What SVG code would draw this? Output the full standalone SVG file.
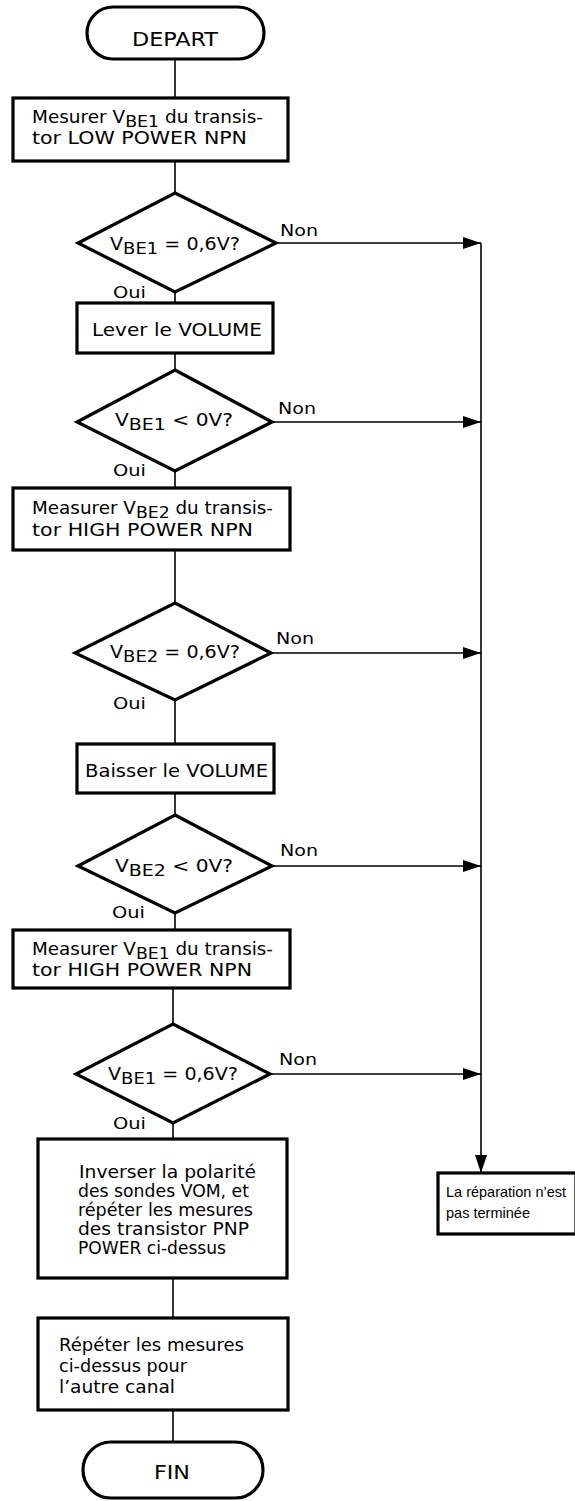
<svg xmlns="http://www.w3.org/2000/svg" width="575" height="1501" viewBox="0 0 575 1501">
<style>
.n{fill:#fff;stroke:#000;stroke-width:3.2}
.c{fill:none;stroke:#000;stroke-width:1.6}
text{font-family:"DejaVu Sans","Liberation Sans",sans-serif;font-size:17px;fill:#000}
.lb{font-size:16px}
.t{font-size:19px}
.s{font-family:"Liberation Sans","DejaVu Sans",sans-serif;font-size:14.5px}
</style>
<defs>
<marker id="ar" markerUnits="userSpaceOnUse" markerWidth="18" markerHeight="12" refX="18" refY="6" orient="auto">
<path d="M0,0 L18,6 L0,12 Z" fill="#000"/>
</marker>
</defs>
<g id="connectors">
<line class="c" x1="175" y1="59" x2="175" y2="98"/>
<line class="c" x1="175" y1="161" x2="175" y2="193"/>
<line class="c" x1="175" y1="292" x2="175" y2="303"/>
<line class="c" x1="175" y1="353" x2="175" y2="370"/>
<line class="c" x1="175" y1="471" x2="175" y2="488"/>
<line class="c" x1="175" y1="550" x2="175" y2="603"/>
<line class="c" x1="175" y1="700" x2="175" y2="744"/>
<line class="c" x1="175" y1="793" x2="175" y2="815"/>
<line class="c" x1="175" y1="913" x2="175" y2="930"/>
<line class="c" x1="173" y1="988" x2="173" y2="1024"/>
<line class="c" x1="173" y1="1123" x2="173" y2="1139"/>
<line class="c" x1="173" y1="1278" x2="173" y2="1318"/>
<line class="c" x1="173" y1="1410" x2="173" y2="1442"/>
<line class="c" x1="276" y1="243" x2="481" y2="243" marker-end="url(#ar)"/>
<line class="c" x1="272" y1="422" x2="481" y2="422" marker-end="url(#ar)"/>
<line class="c" x1="271" y1="653" x2="481" y2="653" marker-end="url(#ar)"/>
<line class="c" x1="272" y1="866" x2="481" y2="866" marker-end="url(#ar)"/>
<line class="c" x1="270" y1="1074" x2="481" y2="1074" marker-end="url(#ar)"/>
<line class="c" x1="481" y1="243" x2="481" y2="1173" marker-end="url(#ar)"/>
<text class="lb" x="280" y="236" textLength="38" lengthAdjust="spacingAndGlyphs">Non</text>
<text class="lb" x="113" y="298" textLength="33" lengthAdjust="spacingAndGlyphs">Oui</text>
<text class="lb" x="278" y="414" textLength="38" lengthAdjust="spacingAndGlyphs">Non</text>
<text class="lb" x="113" y="476" textLength="33" lengthAdjust="spacingAndGlyphs">Oui</text>
<text class="lb" x="276" y="644" textLength="38" lengthAdjust="spacingAndGlyphs">Non</text>
<text class="lb" x="113" y="709" textLength="33" lengthAdjust="spacingAndGlyphs">Oui</text>
<text class="lb" x="280" y="856" textLength="38" lengthAdjust="spacingAndGlyphs">Non</text>
<text class="lb" x="112" y="918" textLength="33" lengthAdjust="spacingAndGlyphs">Oui</text>
<text class="lb" x="279" y="1065" textLength="38" lengthAdjust="spacingAndGlyphs">Non</text>
<text class="lb" x="113" y="1129" textLength="33" lengthAdjust="spacingAndGlyphs">Oui</text>
</g>
<g id="depart">
<rect class="n" x="87" y="7" width="177" height="52" rx="26"/>
<text class="t" x="132" y="46" textLength="86" lengthAdjust="spacingAndGlyphs">DEPART</text>
</g>
<g id="box1">
<rect class="n" x="13" y="98" width="275" height="63"/>
<text x="32" y="123" textLength="231" lengthAdjust="spacingAndGlyphs">Mesurer V<tspan dy="4" font-size="16">BE1</tspan><tspan dy="-4"> du transis-</tspan></text>
<text x="32" y="144" textLength="215" lengthAdjust="spacingAndGlyphs">tor LOW POWER NPN</text>
</g>
<g id="dec1">
<polygon class="n" points="175,193 276,243 175,292 78,243"/>
<text x="110" y="250" textLength="130" lengthAdjust="spacingAndGlyphs">V<tspan dy="4" font-size="16">BE1</tspan><tspan dy="-4"> = 0,6V?</tspan></text>
</g>
<g id="box2">
<rect class="n" x="77" y="303" width="196" height="50"/>
<text x="92" y="336" textLength="170" lengthAdjust="spacingAndGlyphs">Lever le VOLUME</text>
</g>
<g id="dec2">
<polygon class="n" points="175,370 272,422 175,471 77,422"/>
<text x="115" y="426" textLength="118" lengthAdjust="spacingAndGlyphs">V<tspan dy="4" font-size="16">BE1</tspan><tspan dy="-4"> &lt; 0V?</tspan></text>
</g>
<g id="box3">
<rect class="n" x="13" y="488" width="277" height="62"/>
<text x="32" y="514" textLength="241" lengthAdjust="spacingAndGlyphs">Measurer V<tspan dy="4" font-size="16">BE2</tspan><tspan dy="-4"> du transis-</tspan></text>
<text x="32" y="536" textLength="221" lengthAdjust="spacingAndGlyphs">tor HIGH POWER NPN</text>
</g>
<g id="dec3">
<polygon class="n" points="175,603 271,653 175,700 75,653"/>
<text x="110" y="658" textLength="130" lengthAdjust="spacingAndGlyphs">V<tspan dy="4" font-size="16">BE2</tspan><tspan dy="-4"> = 0,6V?</tspan></text>
</g>
<g id="box4">
<rect class="n" x="77" y="744" width="197" height="49"/>
<text x="85" y="777" textLength="183" lengthAdjust="spacingAndGlyphs">Baisser le VOLUME</text>
</g>
<g id="dec4">
<polygon class="n" points="175,815 272,866 175,913 78,866"/>
<text x="115" y="872" textLength="118" lengthAdjust="spacingAndGlyphs">V<tspan dy="4" font-size="16">BE2</tspan><tspan dy="-4"> &lt; 0V?</tspan></text>
</g>
<g id="box5">
<rect class="n" x="13" y="930" width="277" height="58"/>
<text x="32" y="955" textLength="241" lengthAdjust="spacingAndGlyphs">Measurer V<tspan dy="4" font-size="16">BE1</tspan><tspan dy="-4"> du transis-</tspan></text>
<text x="32" y="976" textLength="220" lengthAdjust="spacingAndGlyphs">tor HIGH POWER NPN</text>
</g>
<g id="dec5">
<polygon class="n" points="173,1024 270,1074 173,1123 76,1074"/>
<text x="108" y="1080" textLength="130" lengthAdjust="spacingAndGlyphs">V<tspan dy="4" font-size="16">BE1</tspan><tspan dy="-4"> = 0,6V?</tspan></text>
</g>
<g id="box6">
<rect class="n" x="38" y="1139" width="249" height="139"/>
<text x="79" y="1178" textLength="177" lengthAdjust="spacingAndGlyphs">Inverser la polarité</text>
<text x="78" y="1197" textLength="171" lengthAdjust="spacingAndGlyphs">des sondes VOM, et</text>
<text x="78" y="1216" textLength="175" lengthAdjust="spacingAndGlyphs">répéter les mesures</text>
<text x="78" y="1235" textLength="171" lengthAdjust="spacingAndGlyphs">des transistor PNP</text>
<text x="78" y="1254" textLength="148" lengthAdjust="spacingAndGlyphs">POWER ci-dessus</text>
</g>
<g id="box7">
<rect class="n" x="38" y="1318" width="250" height="92"/>
<text x="59" y="1351" textLength="185" lengthAdjust="spacingAndGlyphs">Répéter les mesures</text>
<text x="59" y="1372" textLength="128" lengthAdjust="spacingAndGlyphs">ci-dessus pour</text>
<text x="59" y="1393" textLength="116" lengthAdjust="spacingAndGlyphs">l’autre canal</text>
</g>
<g id="fin">
<rect class="n" x="83" y="1442" width="180" height="56" rx="28"/>
<text class="t" x="154" y="1479" textLength="36" lengthAdjust="spacingAndGlyphs">FIN</text>
</g>
<g id="box8">
<rect class="n" x="438" y="1173" width="138" height="61" stroke-width="2.5"/>
<text class="s" x="446" y="1197" textLength="120" lengthAdjust="spacingAndGlyphs">La réparation n’est</text>
<text class="s" x="446" y="1218" textLength="84" lengthAdjust="spacingAndGlyphs">pas terminée</text>
</g>
</svg>
